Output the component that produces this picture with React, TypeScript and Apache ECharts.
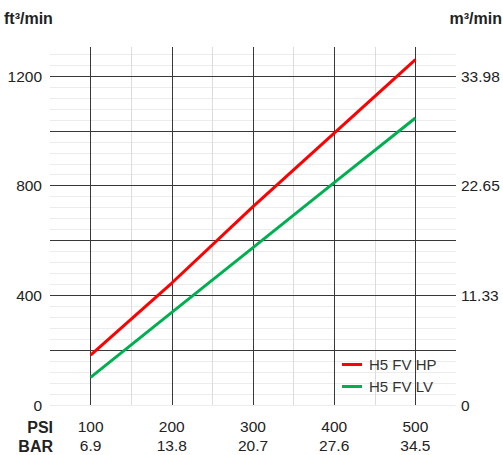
import React, { useEffect, useRef } from "react";
import * as echarts from "echarts";

const PSI = [100, 200, 300, 400, 500];
const BAR_LABELS = ["6.9", "13.8", "20.7", "27.6", "34.5"];
const HP = [182, 445, 724, 992, 1260];
const LV = [101, 338, 574, 811, 1047];
const Y_TICKS = [0, 400, 800, 1200];
const M3_LABELS = ["0", "11.33", "22.65", "33.98"];
const SERIES_NAMES = ["H5 FV HP", "H5 FV LV"];

const FONT = "'Liberation Sans', Arial, Helvetica, sans-serif";
const TXT = "#222";
const DARK = "#383838";
const LIGHT_H = "#ececec";
const LIGHT_V = "#dcdcdc";

export default function App() {
  const ref = useRef<HTMLDivElement>(null);
  useEffect(() => {
    if (!ref.current) return;
    const chart = echarts.init(ref.current, null, { renderer: "svg" });
    const X_MIN = 50, X_MAX = 550, Y_MAX = 1306;
    chart.setOption({
      animation: false,
      textStyle: { fontFamily: FONT },
      grid: { left: 50, right: 47, top: 47, bottom: 50, containLabel: false },
      xAxis: [
        {
          type: "value", min: X_MIN, max: X_MAX, interval: 50, z: 1,
          axisLine: { show: false }, axisTick: { show: false },
          splitLine: { show: true, lineStyle: { color: ["rgba(0,0,0,0)", DARK], width: 1 } },
          axisLabel: {
            margin: 12,
            formatter: (v: number) => {
              const i = PSI.indexOf(v);
              return i >= 0 ? `{a|${v}}\n{b|${BAR_LABELS[i]}}` : "";
            },
            rich: {
              a: { fontSize: 15.5, color: TXT, lineHeight: 19, fontFamily: FONT },
              b: { fontSize: 15.5, color: TXT, lineHeight: 19, fontFamily: FONT },
            },
          },
        },
        {
          type: "value", min: X_MIN, max: X_MAX, interval: 100, position: "bottom",
          axisLine: { show: false }, axisTick: { show: false }, axisLabel: { show: false },
          splitLine: { show: true, showMinLine: false, showMaxLine: false, lineStyle: { color: LIGHT_V, width: 1 } },
        },
      ],
      yAxis: [
        {
          type: "value", min: 0, max: Y_MAX, interval: 40, position: "left",
          axisLine: { show: false }, axisTick: { show: false },
          splitLine: { show: true, showMaxLine: false, lineStyle: { color: LIGHT_H, width: 1 } },
          axisLabel: {
            margin: 8, fontSize: 15.5, color: TXT, fontFamily: FONT, showMaxLabel: false,
            formatter: (v: number) => (Y_TICKS.indexOf(v) >= 0 ? String(v) : ""),
          },
        },
        {
          type: "value", min: 0, max: Y_MAX, interval: 200, position: "left", z: 1,
          axisLine: { show: false }, axisTick: { show: false }, axisLabel: { show: false },
          splitLine: { show: true, showMinLine: false, showMaxLine: false, lineStyle: { color: DARK, width: 1 } },
        },
        {
          type: "value", min: 0, max: Y_MAX, interval: 400, position: "right",
          axisLine: { show: false }, axisTick: { show: false }, splitLine: { show: false },
          axisLabel: {
            margin: 5, fontSize: 15.5, color: TXT, fontFamily: FONT, showMaxLabel: false,
            formatter: (v: number) => {
              const i = Y_TICKS.indexOf(v);
              return i >= 0 ? M3_LABELS[i] : "";
            },
          },
        },
      ],
      legend: {
        orient: "vertical", left: 342, top: 356, padding: 0, itemGap: 5,
        icon: "rect", itemWidth: 20, itemHeight: 3,
        textStyle: { fontSize: 15, color: "#333", fontFamily: FONT, lineHeight: 17, padding: [0, 0, 0, 2] },
        data: SERIES_NAMES,
      },
      series: [
        {
          name: SERIES_NAMES[0], type: "line", xAxisIndex: 0, yAxisIndex: 0, z: 3,
          symbol: "none", lineStyle: { color: "#ff0000", width: 3 }, itemStyle: { color: "#ff0000" },
          data: PSI.map((p, i) => [p, HP[i]]),
        },
        {
          name: SERIES_NAMES[1], type: "line", xAxisIndex: 0, yAxisIndex: 0, z: 3,
          symbol: "none", lineStyle: { color: "#00b050", width: 3 }, itemStyle: { color: "#00b050" },
          data: PSI.map((p, i) => [p, LV[i]]),
        },
      ],
      graphic: [
        { type: "text", x: 4, y: 18.5, style: { text: "ft³/min", font: `bold 16px ${FONT}`, fill: TXT, textVerticalAlign: "middle", textAlign: "left" } },
        { type: "text", x: 502, y: 18.5, style: { text: "m³/min", font: `bold 16px ${FONT}`, fill: TXT, textVerticalAlign: "middle", textAlign: "right" } },
        { type: "text", x: 53, y: 427, style: { text: "PSI", font: `bold 16px ${FONT}`, fill: TXT, textVerticalAlign: "middle", textAlign: "right" } },
        { type: "text", x: 53, y: 446, style: { text: "BAR", font: `bold 16px ${FONT}`, fill: TXT, textVerticalAlign: "middle", textAlign: "right" } },
      ],
    });
    return () => chart.dispose();
  }, []);
  return <div ref={ref} style={{ position: "absolute", left: 0, top: 0, width: 503, height: 455 }} />;
}
